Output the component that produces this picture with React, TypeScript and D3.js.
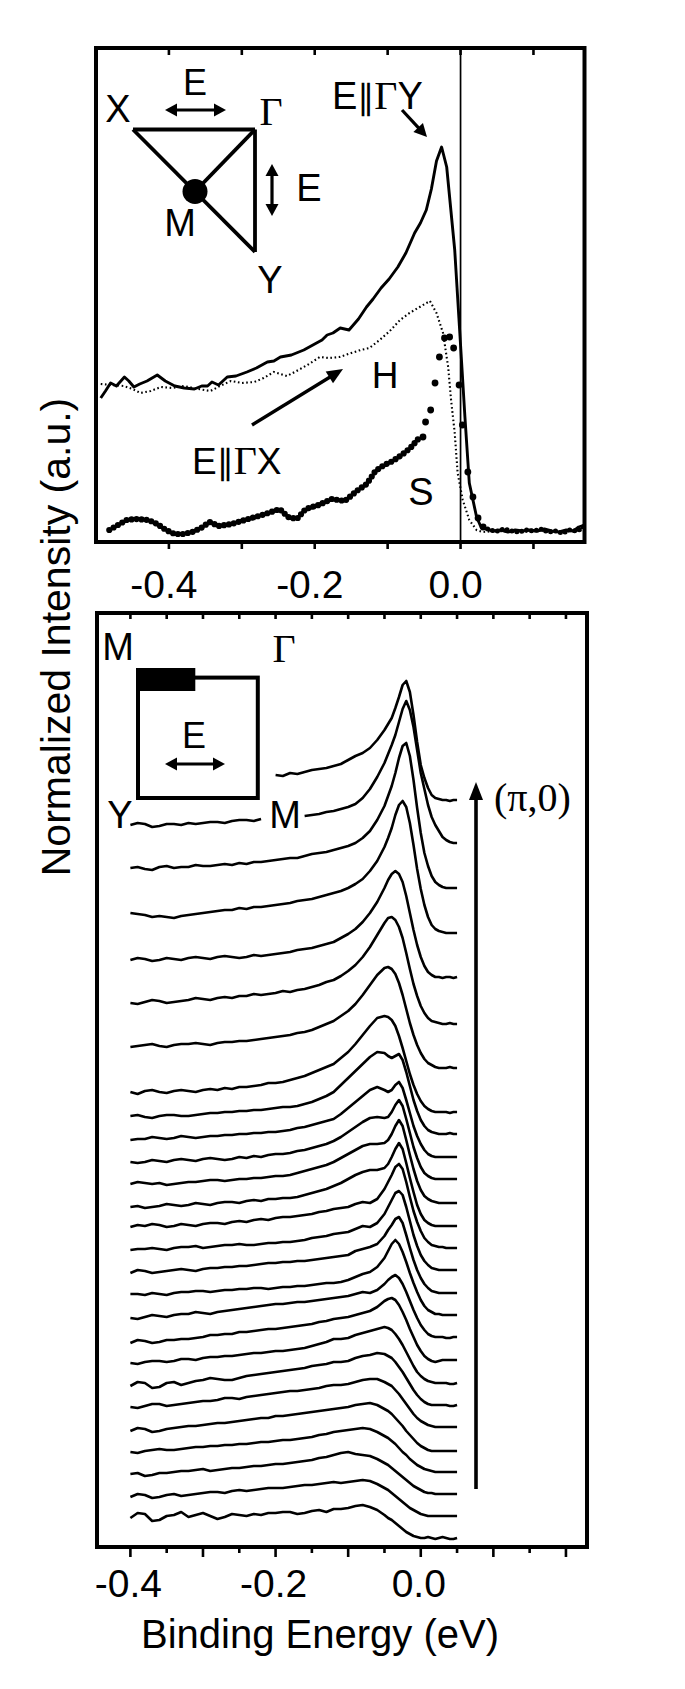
import React from "react";
import * as d3 from "d3";

// ---------------- Top panel data ----------------
const topTickValues = [-0.4, -0.3, -0.2, -0.1, 0.0, 0.1];
const topTickLabels = [-0.4, -0.2, 0.0];

const solidE = [-0.4935,-0.487,-0.48,-0.472,-0.461,-0.455,-0.448,-0.44,-0.43,-0.416,-0.405,-0.392,-0.379,-0.365,-0.355,-0.347,-0.341,-0.332,-0.32,-0.308,-0.293,-0.28,-0.265,-0.256,-0.247,-0.232,-0.215,-0.2,-0.19,-0.183,-0.175,-0.165,-0.153,-0.14,-0.129,-0.12,-0.109,-0.098,-0.086,-0.075,-0.063,-0.055,-0.047,-0.04,-0.033,-0.026,-0.019,-0.008,-0.001,0.006,0.012,0.022,0.028,0.035,0.045,0.055,0.065,0.075,0.085,0.095,0.105,0.115,0.125,0.135,0.145,0.155,0.162,0.17];
const solidI = [1.43,1.5,1.58,1.55,1.64,1.6,1.54,1.57,1.6,1.66,1.6,1.55,1.53,1.52,1.55,1.55,1.59,1.56,1.64,1.65,1.69,1.73,1.79,1.8,1.84,1.86,1.91,1.97,2.01,2.06,2.08,2.13,2.11,2.22,2.34,2.42,2.53,2.62,2.74,2.88,3.08,3.18,3.31,3.52,3.8,3.94,3.74,2.91,2.08,1.24,0.58,0.24,0.14,0.12,0.1,0.11,0.09,0.11,0.1,0.11,0.1,0.12,0.1,0.09,0.11,0.1,0.14,0.16];

const dottedE = [-0.4935,-0.4616,-0.45,-0.439,-0.425,-0.411,-0.395,-0.379,-0.36,-0.343,-0.33,-0.315,-0.3,-0.283,-0.27,-0.256,-0.238,-0.225,-0.21,-0.193,-0.18,-0.166,-0.15,-0.137,-0.125,-0.111,-0.097,-0.083,-0.07,-0.056,-0.042,-0.033,-0.024,-0.017,-0.013,-0.008,-0.004,0.003,0.012,0.022,0.03,0.05,0.08,0.11,0.14,0.17];
const dottedI = [1.57,1.55,1.52,1.48,1.5,1.54,1.53,1.55,1.52,1.5,1.55,1.6,1.58,1.59,1.63,1.69,1.65,1.7,1.76,1.84,1.83,1.84,1.88,1.91,1.93,2.01,2.1,2.21,2.28,2.34,2.4,2.28,2.08,1.74,1.41,1.08,0.68,0.41,0.21,0.11,0.09,0.1,0.09,0.1,0.09,0.11];

const sDenseE = [-0.4818,-0.458,-0.446,-0.428,-0.416,-0.404,-0.392,-0.38,-0.368,-0.356,-0.344,-0.332,-0.314,-0.296,-0.272,-0.248,-0.2365,-0.2245,-0.2125,-0.1946,-0.1766,-0.1587,-0.1407,-0.1287,-0.1167,-0.1048,-0.0928,-0.0808,-0.0688,-0.0569];
const sDenseI = [0.11,0.21,0.22,0.21,0.17,0.11,0.07,0.07,0.09,0.13,0.19,0.15,0.17,0.21,0.26,0.32,0.24,0.22,0.32,0.36,0.42,0.4,0.51,0.57,0.7,0.76,0.8,0.86,0.93,1.03];
const sEdgeE = [-0.0515,-0.048,-0.041,-0.035,-0.029,-0.022,-0.015,-0.0095,-0.002,0.0025,0.01,0.017,0.024,0.031];
const sEdgeI = [1.04,1.19,1.31,1.58,1.84,2.03,2.04,1.93,1.56,1.16,0.69,0.44,0.23,0.14];
const sBaseE = [0.031,0.04,0.05,0.06,0.07,0.08,0.09,0.1,0.11,0.12,0.13,0.14,0.15,0.16,0.17];
const sBaseI = [0.14,0.11,0.1,0.12,0.1,0.09,0.11,0.1,0.12,0.09,0.1,0.08,0.11,0.1,0.15];

// ---------------- Bottom panel data ----------------
const bottomTickValues = [-0.4,-0.35,-0.3,-0.25,-0.2,-0.15,-0.1,-0.05,0,0.05,0.1,0.15,0.2];
const bottomTickLabels = [-0.4, -0.2, 0.0];

// energies of the EDC samples: background part and near-E_F part
const edcEnergyBg = [-0.4,-0.39,-0.38,-0.37,-0.36,-0.35,-0.34,-0.33,-0.32,-0.31,-0.3,-0.29,-0.28,-0.27,-0.26,-0.25,-0.24,-0.23,-0.22,-0.21,-0.2,-0.19,-0.18,-0.17,-0.16,-0.15,-0.14,-0.13,-0.12,-0.11];
const edcEnergyPeak = [-0.1,-0.09,-0.08,-0.07,-0.06,-0.05,-0.045,-0.04,-0.035,-0.03,-0.025,-0.02,-0.015,-0.01,-0.005,0,0.005,0.01,0.015,0.02,0.025,0.03,0.035,0.04,0.045,0.05];

// vertical offset of each EDC (top to bottom)
const edcOffsets = [767,722,679,634,587,544,500,455,431,407,385,363,340,320,297,274,253,229,204,184,161,140,116,95,73,50,29];

const N = null;
const edcBackground: (number | null)[][] = [
  [N,N,N,N,N,N,N,N,N,N,N,N,N,N,N,N,N,N,N,N,5,4,7,6,8,10,11,12,14,16],
  [0,2,1,-2,-1,1,1,0,2,1,2,3,3,2,4,5,5,4,6,N,N,N,N,N,9,10,11,13,14,16],
  [0,1,-1,-2,1,2,0,1,1,3,2,2,3,4,3,5,4,6,6,7,8,9,10,10,12,14,15,16,18,20],
  [0,-1,-2,-4,-3,-4,-5,-3,-2,-1,0,1,2,3,3,5,4,6,6,7,8,9,10,12,13,14,16,18,20,22],
  [0,2,1,-1,0,2,1,0,2,3,2,1,3,4,3,2,3,5,4,5,6,7,8,10,11,12,14,16,18,22],
  [0,-1,1,3,2,0,1,2,3,5,4,3,5,6,5,7,7,9,8,9,10,12,11,13,14,16,18,21,23,27],
  [0,1,2,3,1,0,2,3,3,4,3,2,4,5,5,6,6,7,8,9,10,11,12,14,15,17,20,23,26,31],
  [0,-2,1,2,0,-1,1,2,1,0,2,3,2,4,3,5,5,6,7,9,9,10,12,14,16,19,22,25,28,34],
  [0,1,-1,-2,0,1,1,0,0,1,2,3,3,4,4,5,5,6,6,7,8,9,9,10,12,14,17,20,24,31],
  [0,1,1,3,2,1,2,4,3,2,3,4,4,5,5,6,6,7,7,8,8,9,10,12,13,15,17,19,21,26],
  [0,-1,0,2,1,0,2,3,2,1,3,4,3,2,3,5,4,6,5,7,8,8,9,11,12,14,16,18,21,25],
  [0,2,1,0,1,-1,0,1,2,2,3,4,4,3,4,5,5,6,6,7,8,8,9,11,13,15,17,19,22,26],
  [0,1,-1,0,1,3,2,1,2,4,3,2,4,5,5,4,6,7,6,8,8,9,9,10,12,14,16,18,21,24],
  [0,2,1,3,2,0,1,3,2,1,3,4,4,3,5,6,5,7,8,7,9,10,10,11,12,13,15,16,18,19],
  [0,1,1,2,1,0,2,3,3,4,2,3,4,5,5,6,5,5,6,7,7,8,8,9,10,12,13,14,16,17],
  [0,3,2,0,1,2,3,4,3,2,4,5,5,6,6,7,7,8,9,10,10,11,11,12,12,13,14,15,16,17],
  [0,0,-1,1,0,-1,1,2,2,3,3,2,3,4,4,5,5,6,6,5,6,7,7,8,8,9,10,11,11,12],
  [0,-1,1,3,2,1,3,4,4,6,5,4,6,7,8,9,10,11,12,13,14,14,15,16,16,17,18,19,20,21],
  [0,3,2,0,1,3,3,4,4,5,6,8,8,9,9,11,11,12,13,14,14,15,16,17,18,19,21,22,24,25],
  [0,-1,1,2,2,1,2,4,4,3,5,6,6,7,7,8,9,10,10,11,12,12,13,14,15,17,19,21,24,24],
  [0,4,3,-2,-1,3,4,1,3,5,6,8,7,6,6,8,10,11,12,13,14,15,16,17,18,20,21,22,24,24],
  [0,-1,1,3,3,1,2,3,4,5,6,6,7,9,9,8,10,11,12,13,14,15,16,16,17,18,19,21,22,22],
  [0,3,2,-1,0,2,3,4,5,5,6,7,8,8,9,10,11,12,13,13,15,15,16,17,18,19,20,21,22,23],
  [0,-1,1,2,3,2,2,3,4,5,5,6,6,7,7,8,8,9,10,10,11,12,12,13,14,15,17,18,20,21],
  [0,1,-2,-1,1,1,2,3,3,4,5,3,4,5,6,6,7,8,8,9,10,10,11,12,13,14,16,17,19,21],
  [0,3,2,-1,0,2,3,1,2,3,4,5,5,4,6,7,6,7,8,9,9,9,10,11,12,12,13,14,15,14],
  [0,5,4,-3,-2,2,3,6,1,3,5,2,-1,1,4,3,2,4,3,5,5,6,6,4,5,7,8,6,9,9],
];

const edcPeak: number[][] = [
  [20,24,27,32,40,50,56,62,72,83,95,99,88,65,38,15,2,-8,-15,-18,-19,-20,-20,-21,-20,-20],
  [18,21,27,36,48,62,71,80,90,103,116,124,115,98,75,52,36,20,8,0,-6,-12,-15,-17,-18,-18],
  [22,25,30,37,48,62,72,82,95,110,122,125,112,88,60,35,15,2,-8,-14,-17,-19,-20,-20,-20,-20],
  [25,29,34,42,52,66,75,85,98,108,112,106,90,68,44,24,8,-4,-12,-16,-18,-19,-20,-20,-20,-20],
  [26,31,38,47,58,72,80,86,89,86,78,64,47,30,15,3,-6,-12,-15,-17,-17,-18,-17,-17,-18,-17],
  [32,38,46,56,68,80,85,86,83,76,65,50,34,19,7,-3,-10,-15,-18,-19,-20,-21,-21,-20,-21,-21],
  [36,43,52,62,72,79,80,78,73,64,52,38,24,12,2,-6,-12,-16,-18,-20,-21,-21,-21,-20,-21,-21],
  [40,48,57,66,74,76,75,72,66,56,44,31,18,7,-2,-9,-14,-17,-19,-20,-20,-20,-20,-21,-20,-20],
  [38,45,52,59,64,63,60,58,60,62,56,44,30,16,5,-4,-10,-14,-16,-17,-18,-18,-18,-17,-18,-18],
  [32,38,44,50,53,50,48,50,55,58,52,40,27,14,4,-4,-10,-14,-16,-17,-17,-17,-17,-17,-17,-17],
  [30,35,40,44,45,44,45,50,57,62,56,43,29,15,4,-5,-11,-14,-16,-17,-17,-17,-17,-17,-17,-17],
  [30,34,38,40,40,41,44,50,58,64,58,44,29,15,3,-6,-12,-15,-17,-18,-19,-19,-19,-19,-19,-19],
  [28,32,35,37,37,39,43,50,58,64,58,44,29,15,2,-7,-13,-16,-18,-19,-19,-19,-19,-19,-19,-19],
  [20,23,25,24,28,38,45,52,60,63,58,45,30,16,5,-4,-11,-15,-18,-19,-20,-20,-21,-21,-21,-21],
  [18,21,24,23,27,36,43,50,57,59,55,43,29,15,4,-5,-11,-15,-18,-19,-20,-20,-20,-20,-20,-20],
  [18,22,24,26,29,37,43,48,54,56,50,38,25,13,3,-5,-11,-15,-18,-19,-20,-20,-20,-20,-20,-20],
  [14,17,20,22,27,36,43,50,54,50,42,32,21,11,2,-6,-12,-16,-18,-20,-20,-21,-21,-21,-21,-21],
  [22,24,26,25,28,34,38,41,43,40,34,26,17,8,0,-7,-12,-16,-18,-19,-19,-19,-20,-20,-19,-19],
  [26,28,30,32,36,42,44,45,43,38,31,23,14,6,-2,-8,-13,-16,-18,-19,-18,-17,-17,-17,-17,-17],
  [25,28,30,32,34,36,35,33,29,24,18,11,4,-3,-9,-13,-16,-18,-19,-20,-20,-20,-20,-21,-21,-20],
  [25,28,30,31,33,32,30,28,24,19,14,8,2,-4,-9,-13,-16,-18,-19,-19,-19,-19,-19,-20,-20,-19],
  [23,25,27,28,28,25,23,21,17,13,8,3,-2,-7,-11,-14,-16,-18,-19,-20,-20,-20,-20,-20,-20,-20],
  [24,26,27,28,26,22,20,17,13,9,5,0,-4,-8,-12,-15,-17,-19,-20,-20,-20,-20,-20,-20,-20,-20],
  [22,23,24,23,20,16,14,11,8,4,0,-3,-7,-10,-13,-15,-17,-18,-19,-20,-20,-20,-20,-20,-20,-20],
  [22,20,19,18,15,11,9,6,3,0,-3,-6,-9,-12,-14,-16,-18,-19,-19,-20,-20,-20,-20,-20,-20,-20],
  [15,16,17,16,13,9,7,4,1,-2,-5,-8,-11,-13,-15,-17,-18,-19,-19,-19,-19,-19,-19,-19,-19,-19],
  [10,12,13,11,8,3,0,-2,-5,-8,-11,-14,-16,-18,-19,-20,-20,-19,-20,-21,-20,-19,-20,-21,-21,-20],
];

const SANS = "'Liberation Sans', Arial, Helvetica, sans-serif";
const SERIF = "'Liberation Serif', 'Times New Roman', serif";

function arrowHead(x: number, y: number, a: number, hl: number, hw: number) {
  const bx = x - hl * Math.cos(a), by = y - hl * Math.sin(a);
  const px = (-Math.sin(a) * hw) / 2, py = (Math.cos(a) * hw) / 2;
  return `M${x},${y}L${bx + px},${by + py}L${bx - px},${by - py}Z`;
}

function Arrow({ x1, y1, x2, y2, w = 3, hl = 12, hw = 11, both = false }: any) {
  const a = Math.atan2(y2 - y1, x2 - x1);
  const sx = both ? x1 + hl * 0.8 * Math.cos(a) : x1;
  const sy = both ? y1 + hl * 0.8 * Math.sin(a) : y1;
  const ex = x2 - hl * 0.8 * Math.cos(a), ey = y2 - hl * 0.8 * Math.sin(a);
  return (
    <g>
      <line x1={sx} y1={sy} x2={ex} y2={ey} stroke="#000" strokeWidth={w} />
      <path d={arrowHead(x2, y2, a, hl, hw)} fill="#000" />
      {both && <path d={arrowHead(x1, y1, a + Math.PI, hl, hw)} fill="#000" />}
    </g>
  );
}

const fmt = (v: number) => v.toFixed(1);

export default function App() {
  const xT = d3.scaleLinear().domain([-0.5, 0.17]).range([96, 584.5]);
  const yT = d3.scaleLinear().domain([0, 4.94]).range([541, 47]);
  const xB = d3.scaleLinear().domain([-0.446, 0.229]).range([97, 587]);
  const yB = d3.scaleLinear().domain([0, 934]).range([1547, 613]);

  const lineT = d3.line<[number, number]>().x((d) => xT(d[0])).y((d) => yT(d[1]));
  const zip = (a: number[], b: number[]) => a.map((e, i) => [e, b[i]] as [number, number]);

  const lineB = d3
    .line<[number, number | null]>()
    .defined((d) => d[1] !== null)
    .x((d) => xB(d[0]))
    .y((d) => yB(d[1] as number));

  const edcEnergy = edcEnergyBg.concat(edcEnergyPeak);

  const tTop = 48, tBot = 542, tL = 96, tR = 584.5;
  const bTop = 613, bBot = 1547, bL = 97, bR = 587;

  return (
    <svg width={685} height={1689} style={{ position: "absolute", left: 0, top: 0, background: "#fff" }} fontFamily={SANS}>
      <rect x={0} y={0} width={685} height={1689} fill="#fff" />

      {/* ========== TOP PANEL ========== */}
      <line x1={xT(0)} x2={xT(0)} y1={tTop} y2={tBot} stroke="#000" strokeWidth={1.7} />
      <path d={lineT(zip(dottedE, dottedI)) || ""} fill="none" stroke="#000" strokeWidth={2.1} strokeDasharray="1.6 2.6" />
      <path d={lineT(zip(solidE, solidI)) || ""} fill="none" stroke="#000" strokeWidth={2.9} strokeLinejoin="round" />
      <path d={lineT(zip(sDenseE, sDenseI)) || ""} fill="none" stroke="#000" strokeWidth={6.2} strokeLinecap="round" strokeDasharray="0 5" />
      <path d={lineT(zip(sBaseE, sBaseI)) || ""} fill="none" stroke="#000" strokeWidth={5} strokeLinecap="round" strokeDasharray="0 5" />
      {zip(sEdgeE, sEdgeI).map((d, i) => (
        <circle key={i} cx={xT(d[0])} cy={yT(d[1])} r={3.4} fill="#000" />
      ))}

      <rect x={tL} y={tTop} width={tR - tL} height={tBot - tTop} fill="none" stroke="#000" strokeWidth={4} />
      {topTickValues.map((v) => (
        <g key={v}>
          <line x1={xT(v)} x2={xT(v)} y1={tTop} y2={tTop + 7} stroke="#000" strokeWidth={2.6} />
          <line x1={xT(v)} x2={xT(v)} y1={tBot} y2={tBot + 7} stroke="#000" strokeWidth={2.6} />
        </g>
      ))}
      {topTickLabels.map((v) => (
        <text key={v} x={xT(v)} dx={-5} y={598} fontSize={39} textAnchor="middle">{fmt(v)}</text>
      ))}

      {/* inset triangle */}
      <g stroke="#000" strokeWidth={3.8} strokeLinejoin="miter">
        <line x1={133} y1={129.5} x2={255} y2={129.5} />
        <line x1={255} y1={129.5} x2={255} y2={252} />
        <line x1={133} y1={129.5} x2={255} y2={252} />
        <line x1={255} y1={129.5} x2={195} y2={191.5} />
      </g>
      <circle cx={195} cy={191.5} r={12.5} fill="#000" />
      <text x={118} y={122} fontSize={38} textAnchor="middle">X</text>
      <text x={195} y={95} fontSize={36} textAnchor="middle">E</text>
      <Arrow x1={165} y1={110} x2={226} y2={110} w={3.2} hl={12} hw={13} both />
      <text x={271} y={125} fontSize={40} textAnchor="middle" fontFamily={SERIF}>Γ</text>
      <Arrow x1={272} y1={164} x2={272} y2={216} w={3.2} hl={12} hw={13} both />
      <text x={309} y={201} fontSize={38} textAnchor="middle">E</text>
      <text x={180} y={236} fontSize={38} textAnchor="middle">M</text>
      <text x={270} y={293} fontSize={38} textAnchor="middle">Y</text>

      <text x={332} y={109} fontSize={38}>
        E<tspan fontFamily="'DejaVu Sans', sans-serif" fontSize={34}>∥</tspan><tspan fontFamily={SERIF} fontSize={40}>Γ</tspan>Y
      </text>
      <Arrow x1={402} y1={110} x2={427} y2={137} w={3.2} hl={13} hw={13} />
      <text x={385} y={388} fontSize={37} textAnchor="middle">H</text>
      <Arrow x1={252} y1={425} x2={343} y2={369} w={3.4} hl={16} hw={14} />
      <text x={192} y={474} fontSize={37}>
        E<tspan fontFamily="'DejaVu Sans', sans-serif" fontSize={34}>∥</tspan><tspan fontFamily={SERIF} fontSize={40}>Γ</tspan>X
      </text>
      <text x={421} y={505} fontSize={38} textAnchor="middle">S</text>

      {/* ========== BOTTOM PANEL ========== */}
      {edcBackground.map((bg, k) => {
        const prof = (bg as (number | null)[]).concat(edcPeak[k]);
        const pts = edcEnergy.map(
          (e, i) => [e, prof[i] === null ? null : (prof[i] as number) + edcOffsets[k]] as [number, number | null]
        );
        return (
          <path key={k} d={lineB(pts) || ""} fill="none" stroke="#000" strokeWidth={2.6} strokeLinejoin="round" />
        );
      })}

      <rect x={bL} y={bTop} width={bR - bL} height={bBot - bTop} fill="none" stroke="#000" strokeWidth={4} />
      {bottomTickValues.map((v, i) => {
        const major = i % 2 === 0;
        return (
          <g key={v}>
            <line x1={xB(v)} x2={xB(v)} y1={bTop} y2={bTop + 6} stroke="#000" strokeWidth={2.6} />
            <line x1={xB(v)} x2={xB(v)} y1={bBot} y2={bBot + (major ? 10 : 6)} stroke="#000" strokeWidth={2.6} />
          </g>
        );
      })}
      {bottomTickLabels.map((v) => (
        <text key={v} x={xB(v)} dx={-2} y={1597} fontSize={39} textAnchor="middle">{fmt(v)}</text>
      ))}

      {/* inset square */}
      <text x={118} y={660} fontSize={38} textAnchor="middle">M</text>
      <text x={284} y={662} fontSize={40} textAnchor="middle" fontFamily={SERIF}>Γ</text>
      <rect x={138} y={677.6} width={119.8} height={120.4} fill="none" stroke="#000" strokeWidth={4} />
      <rect x={136} y={668} width={59.3} height={23} fill="#000" />
      <text x={194} y={748} fontSize={36} textAnchor="middle">E</text>
      <Arrow x1={165} y1={764} x2={225} y2={764} w={3.2} hl={12} hw={13} both />
      <text x={120} y={828} fontSize={38} textAnchor="middle">Y</text>
      <text x={285} y={828} fontSize={38} textAnchor="middle">M</text>

      {/* big arrow */}
      <Arrow x1={476} y1={1489} x2={476} y2={782} w={3.6} hl={18} hw={14} />
      <text x={494} y={811} fontSize={40} fontFamily={SERIF}>(π,0)</text>

      {/* axis titles */}
      <text x={320} y={1648} fontSize={40} textAnchor="middle">Binding Energy (eV)</text>
      <text transform="translate(70,637) rotate(-90)" fontSize={41} textAnchor="middle">Normalized Intensity (a.u.)</text>
    </svg>
  );
}
